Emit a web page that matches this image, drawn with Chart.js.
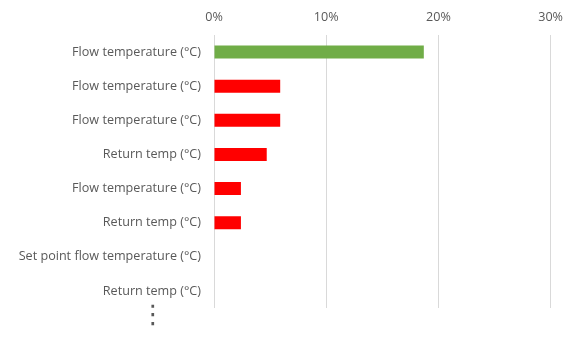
<!DOCTYPE html>
<html>
<head>
<meta charset="utf-8">
<script src="https://cdn.jsdelivr.net/npm/chart.js@4"></script>
<style>
  html, body { margin: 0; padding: 0; background: #fff; }
  #wrap { position: relative; width: 573px; height: 340px; }
  #more {
    position: absolute; left: 140px; top: 299px; width: 20px;
    font-family: "DejaVu Sans", sans-serif; font-size: 26px; line-height: 30px;
    color: #595959; text-align: center;
  }
</style>
</head>
<body>
<div id="wrap">
  <canvas id="chart" width="573" height="340"></canvas>
  <div id="more">⋮</div>
</div>
<script>
/* data */
const labels = [
  'Flow temperature (°C)',
  'Flow temperature (°C)',
  'Flow temperature (°C)',
  'Return temp (°C)',
  'Flow temperature (°C)',
  'Return temp (°C)',
  'Set point flow temperature (°C)',
  'Return temp (°C)'
];
const shares = [0.187, 0.059, 0.059, 0.047, 0.024, 0.024, 0, 0];
const barColors = ['#70ad47', '#ff0000', '#ff0000', '#ff0000', '#ff0000', '#ff0000', '#ff0000', '#ff0000'];
const xTicks = [0, 0.1, 0.2, 0.3];

const font = { family: '"Open Sans", sans-serif', size: 12.6 };

new Chart(document.getElementById('chart'), {
  type: 'bar',
  data: {
    labels: labels,
    datasets: [{
      data: shares,
      backgroundColor: barColors,
      borderWidth: 0,
      barPercentage: 0.38,
      categoryPercentage: 1
    }]
  },
  options: {
    indexAxis: 'y',
    responsive: false,
    animation: false,
    layout: { padding: { left: 0, right: 21, top: 0, bottom: 32 } },
    plugins: { legend: { display: false }, tooltip: { enabled: false } },
    scales: {
      x: {
        position: 'top',
        min: 0,
        max: 0.3,
        afterBuildTicks: s => { s.ticks = xTicks.map(v => ({ value: v })); },
        afterFit: s => { s.height = 35; },
        grid: { color: '#d9d9d9', drawTicks: false },
        border: { display: false },
        ticks: {
          color: '#595959',
          font: font,
          padding: 10,
          callback: v => Math.round(v * 100) + '%'
        }
      },
      y: {
        afterFit: s => { s.width = 214; },
        grid: { display: false, drawTicks: false },
        border: { display: false },
        ticks: { color: '#595959', font: font, padding: 13 }
      }
    }
  }
});
</script>
</body>
</html>
